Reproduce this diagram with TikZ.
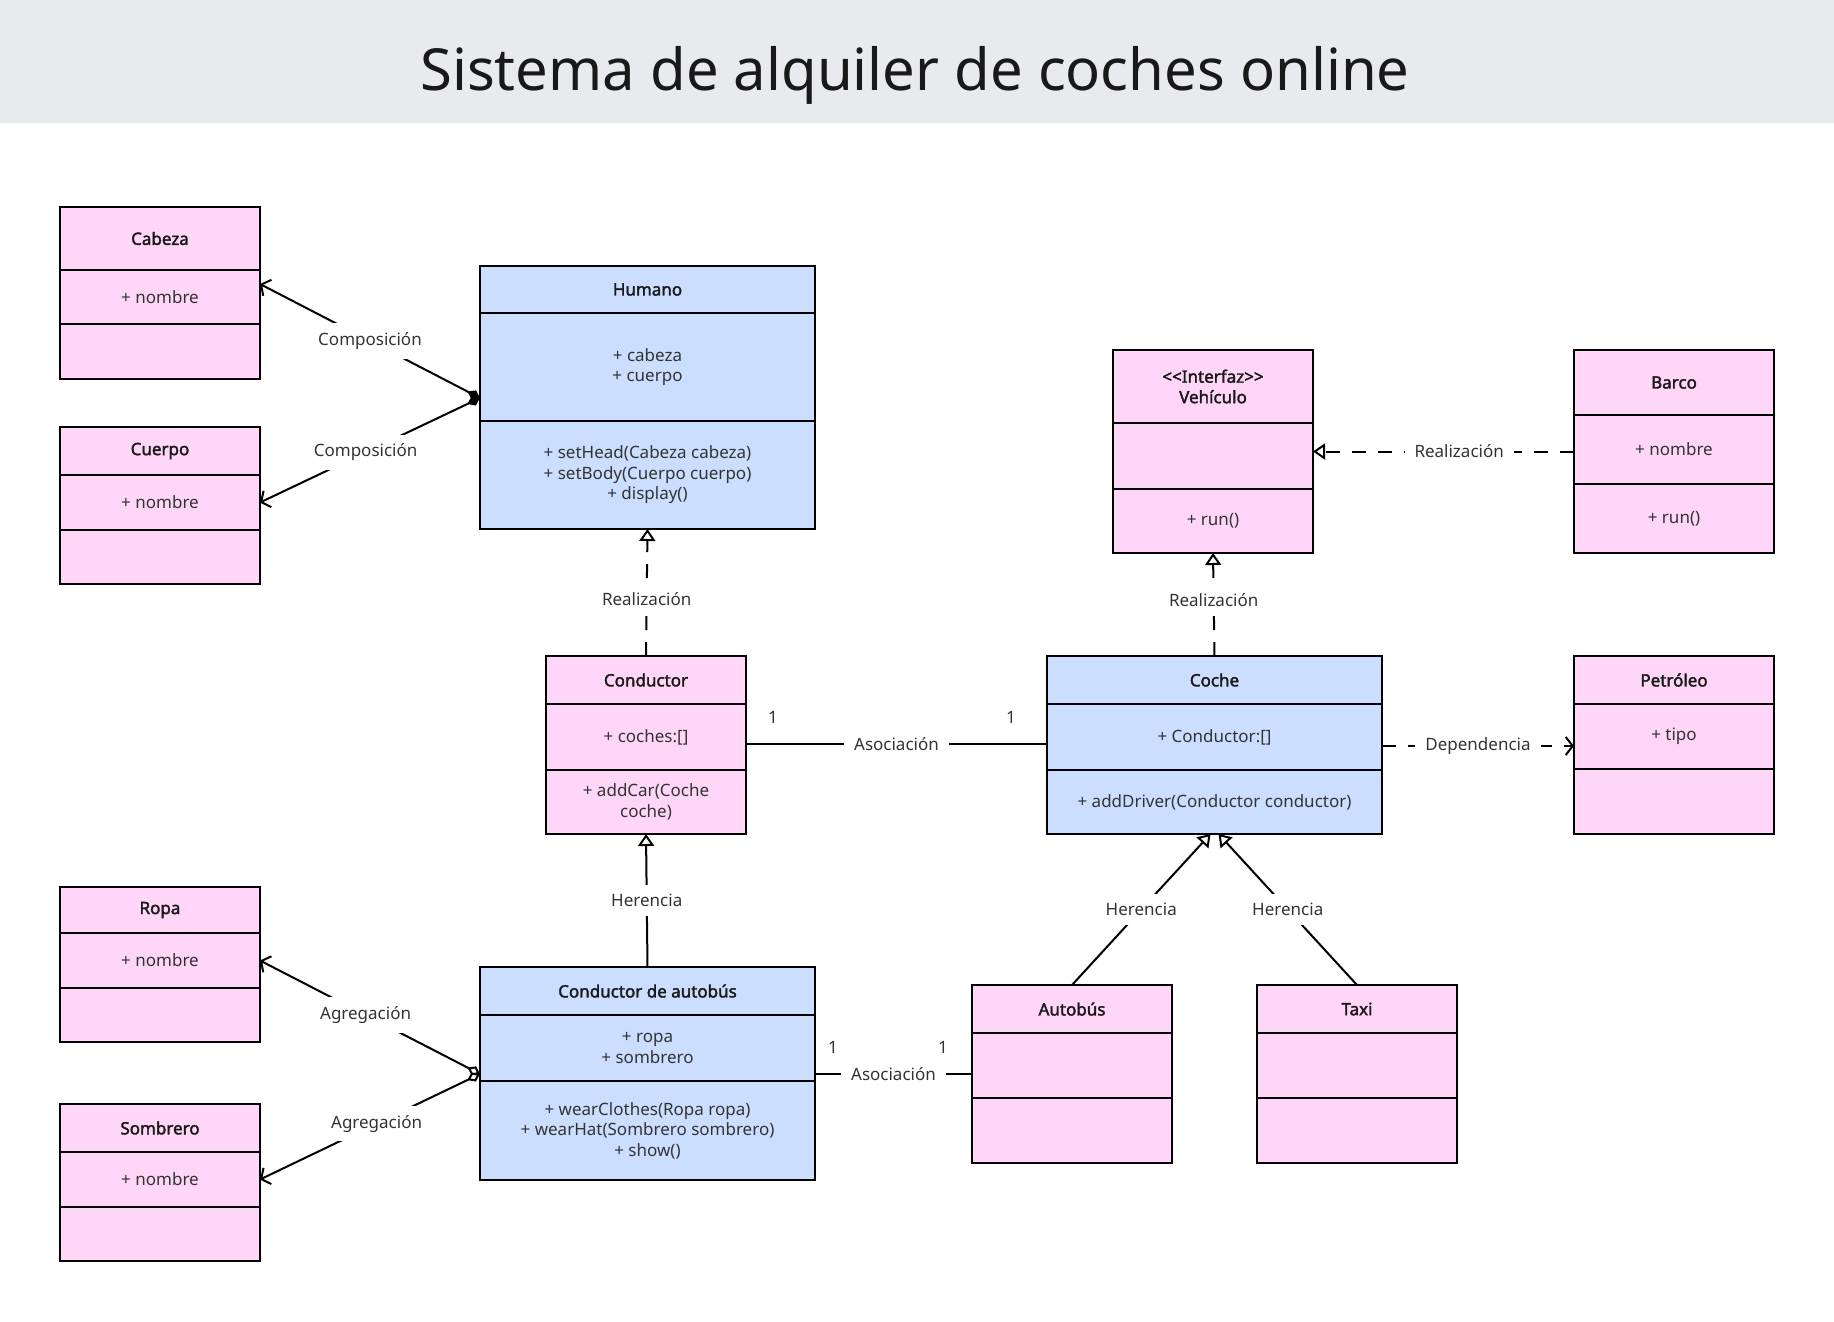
\documentclass[tikz,border=0pt]{standalone}
\usepackage{fontspec}
\setmainfont{Noto Sans}[AutoFakeBold=2]
\usepackage{xcolor}
\usetikzlibrary{positioning, arrows.meta}

\definecolor{clspink}{RGB}{255,214,248}
\definecolor{clsblue}{RGB}{204,222,255}
\definecolor{titlegray}{RGB}{233,234,237}
\definecolor{txtgray}{RGB}{51,51,51}

\begin{document}
\begin{tikzpicture}[
    x=1pt, y=-1pt,
    cls/.style={
        rectangle,
        draw,
        line width=2.5pt,
        minimum width=200pt,
        inner sep=0pt,
        outer sep=0pt,
        align=center,
        font=\fontsize{17}{20.5}\selectfont,
        text=txtgray
    },
    pinkbox/.style={cls, fill=clspink},
    bluebox/.style={cls, fill=clsblue, minimum width=335pt},
    head/.style={
        font=\fontsize{17}{20.5}\selectfont\bfseries,
        text=black!90
    },
    lbl/.style={
        fill=white,
        inner xsep=10pt,
        inner ysep=9pt,
        font=\fontsize{17}{20}\selectfont,
        text=txtgray
    },
    mult/.style={
        inner sep=0pt,
        font=\fontsize{17}{20}\selectfont,
        text=txtgray
    },
    link/.style={line width=2pt},
    comp/.style={link, {Diamond[length=14pt, width=10pt]}-{Straight Barb[length=7pt, width=18pt]}},
    agg/.style={link, {Diamond[fill=white, length=14pt, width=10pt]}-{Straight Barb[length=7pt, width=18pt]}},
    real/.style={link, dash pattern=on 14pt off 12pt, -{Triangle[open, length=12pt, width=16pt]}},
    inh/.style={link, -{Triangle[open, length=12pt, width=16pt]}},
    dep/.style={link, dash pattern=on 14pt off 12pt, -{Straight Barb[length=7pt, width=18pt]}}
]

\useasboundingbox (0,0) rectangle (1834,1322);

% Title

\fill[titlegray] (0,0) rectangle (1834,123);
\node[anchor=base, font=\fontsize{58}{64}\selectfont, text=black!90] (title) at (915,91) {Sistema de alquiler de coches online};


% Left column

\node[pinkbox, head, minimum height=63pt, anchor=north west] (cab) at (60,207) {Cabeza};
\node[pinkbox, minimum height=54pt, below=0pt of cab] (cab-a) {+ nombre};
\node[pinkbox, minimum height=55pt, below=0pt of cab-a] (cab-m) {};

\node[pinkbox, head, minimum height=48pt, anchor=north west] (cue) at (60,427) {Cuerpo};
\node[pinkbox, minimum height=55pt, below=0pt of cue] (cue-a) {+ nombre};
\node[pinkbox, minimum height=54pt, below=0pt of cue-a] (cue-m) {};

\node[pinkbox, head, minimum height=46pt, anchor=north west] (rop) at (60,887) {Ropa};
\node[pinkbox, minimum height=55pt, below=0pt of rop] (rop-a) {+ nombre};
\node[pinkbox, minimum height=54pt, below=0pt of rop-a] (rop-m) {};

\node[pinkbox, head, minimum height=48pt, anchor=north west] (som) at (60,1104) {Sombrero};
\node[pinkbox, minimum height=55pt, below=0pt of som] (som-a) {+ nombre};
\node[pinkbox, minimum height=54pt, below=0pt of som-a] (som-m) {};


% Middle column

\node[bluebox, head, minimum height=47pt, anchor=north west] (hum) at (480,266) {Humano};
\node[bluebox, minimum height=108pt, below=0pt of hum] (hum-a) {+ cabeza\\+ cuerpo};
\node[bluebox, minimum height=108pt, below=0pt of hum-a] (hum-m) {
+ setHead(Cabeza cabeza)\\
+ setBody(Cuerpo cuerpo)\\
+ display()
};

\node[pinkbox, head, minimum height=48pt, anchor=north west] (con) at (546,656) {Conductor};
\node[pinkbox, minimum height=66pt, below=0pt of con] (con-a) {+ coches:[]};
\node[pinkbox, minimum height=64pt, below=0pt of con-a] (con-m) {+ addCar(Coche\\coche)};

\node[bluebox, head, minimum height=48pt, anchor=north west] (cda) at (480,967) {Conductor de autobús};
\node[bluebox, minimum height=66pt, below=0pt of cda] (cda-a) {+ ropa\\+ sombrero};
\node[bluebox, minimum height=99pt, below=0pt of cda-a] (cda-m) {
+ wearClothes(Ropa ropa)\\
+ wearHat(Sombrero sombrero)\\
+ show()
};


% Right part

\node[pinkbox, head, minimum height=73pt, anchor=north west] (veh) at (1113,350) {<\kern0pt<Interfaz>\kern0pt>\\Vehículo};
\node[pinkbox, minimum height=66pt, below=0pt of veh] (veh-a) {};
\node[pinkbox, minimum height=64pt, below=0pt of veh-a] (veh-m) {+ run()};

\node[pinkbox, head, minimum height=65pt, anchor=north west] (bar) at (1574,350) {Barco};
\node[pinkbox, minimum height=69pt, below=0pt of bar] (bar-a) {+ nombre};
\node[pinkbox, minimum height=69pt, below=0pt of bar-a] (bar-m) {+ run()};

\node[bluebox, head, minimum height=48pt, anchor=north west] (coc) at (1047,656) {Coche};
\node[bluebox, minimum height=66pt, below=0pt of coc] (coc-a) {+ Conductor:[]};
\node[bluebox, minimum height=64pt, below=0pt of coc-a] (coc-m) {+ addDriver(Conductor conductor)};

\node[pinkbox, head, minimum height=48pt, anchor=north west] (pet) at (1574,656) {Petróleo};
\node[pinkbox, minimum height=65pt, below=0pt of pet] (pet-a) {+ tipo};
\node[pinkbox, minimum height=65pt, below=0pt of pet-a] (pet-m) {};

\node[pinkbox, head, minimum height=48pt, anchor=north west] (aut) at (972,985) {Autobús};
\node[pinkbox, minimum height=65pt, below=0pt of aut] (aut-a) {};
\node[pinkbox, minimum height=65pt, below=0pt of aut-a] (aut-m) {};

\node[pinkbox, head, minimum height=48pt, anchor=north west] (tax) at (1257,985) {Taxi};
\node[pinkbox, minimum height=65pt, below=0pt of tax] (tax-a) {};
\node[pinkbox, minimum height=65pt, below=0pt of tax-a] (tax-m) {};


% Connection points

\coordinate (hum-d) at ([yshift=23pt]hum-a.south west);
\coordinate (cda-d) at ([yshift=7pt]cda-a.south west);
\coordinate (con-r) at ([yshift=-7pt]con-a.east);
\coordinate (coc-r) at ([yshift=-9pt]coc-a.east);
\coordinate (bar-l) at ([yshift=-2pt]bar-a.west);
\coordinate (cda-r) at ([yshift=7pt]cda-a.south east);


% Arrows

\draw[comp] (hum-d) -- node[lbl]{Composición} ([yshift=13pt]cab-a.east);
\draw[comp] (hum-d) -- node[lbl, pos=0.52]{Composición} (cue-a.east);

\draw[agg] (cda-d) -- node[lbl, pos=0.52]{Agregación} (rop-a.east);
\draw[agg] (cda-d) -- node[lbl, pos=0.47]{Agregación} (som-a.east);

\draw[real] (con.north) -- node[lbl, pos=0.45]{Realización} (hum-m.south);
\draw[real] (coc.north) -- node[lbl, pos=0.54]{Realización} (veh-m.south);
\draw[real] (bar-l) -- node[lbl, pos=0.44]{Realización} (veh-a.east |- bar-l);

\draw[inh] (cda.north) -- node[lbl]{Herencia} (con-m.south);
\draw[inh] (aut.north) -- node[lbl]{Herencia} ([xshift=-4pt]coc-m.south);
\draw[inh] (tax.north) -- node[lbl]{Herencia} ([xshift=4pt]coc-m.south);

\draw[link] (con-r) -- node[lbl]{Asociación}
    node[mult, pos=0.09, above=20pt]{1}
    node[mult, pos=0.88, above=20pt]{1} (con-r -| coc.west);
\draw[link] (cda-r) -- node[lbl]{Asociación}
    node[mult, pos=0.115, above=20pt]{1}
    node[mult, pos=0.815, above=20pt]{1} (cda-r -| aut.west);

\draw[dep] (coc-r) -- node[lbl]{Dependencia} (coc-r -| pet.west);

\end{tikzpicture}
\end{document}
